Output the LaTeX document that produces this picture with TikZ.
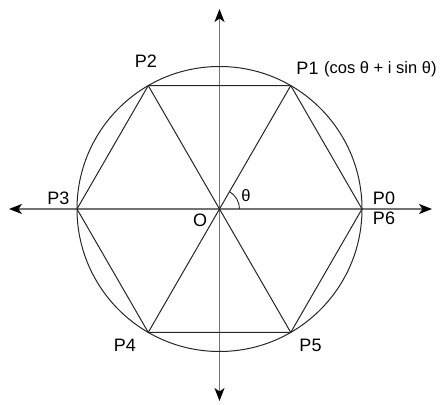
\documentclass[tikz,border=0pt]{standalone}
\usepackage{fontspec}
\setmainfont{Liberation Sans}
\usetikzlibrary{arrows.meta,calc}
\begin{document}
\begin{tikzpicture}[x=1pt,y=1pt,
  geo/.style={draw=black!85, line width=1pt},
  axis/.style={draw=black!55, line width=1.3pt, -{Stealth[length=13pt,width=10pt,inset=3.5pt,black]}},
  plabel/.style={font=\fontsize{18}{18}\selectfont, inner sep=0pt},
  small/.style={font=\fontsize{16.5}{17}\selectfont, inner sep=0pt}]
\useasboundingbox (0,0) rectangle (444,404);
\coordinate (O) at (219.5,195);
\foreach \k in {0,...,5} { \coordinate (Q\k) at ($(O)+(60*\k:142.5)$); }
\coordinate (AL) at (9,195);
\coordinate (AR) at (432,195);
\coordinate (AT) at (219.5,395);
\coordinate (AB) at (219.5,3);
% axes
\draw[axis] (O) -- (AL);
\draw[axis] (O) -- (AR);
\draw[axis] (O) -- (AT);
\draw[axis] (O) -- (AB);
% circle
\draw[geo] (O) circle[radius=142.5];
% hexagon
\draw[geo] (Q0) -- (Q1) -- (Q2) -- (Q3) -- (Q4) -- (Q5) -- cycle;
% diameters
\draw[geo] (Q1) -- (Q4);
\draw[geo] (Q2) -- (Q5);
% angle arc
\draw[geo, line width=0.9pt] ($(O)+(20,0)$) arc[start angle=0, end angle=60, radius=20];
% labels
\node[plabel] (lP1) at (307.5,335.5) {P1};
\node[small, anchor=west] (lz) at (324,335) {(cos θ + i sin θ)};
\node[plabel] (lP2) at (146,342.5) {P2};
\node[plabel] (lP3) at (58.5,205.5) {P3};
\node[plabel] (lP0) at (384,205.5) {P0};
\node[plabel] (lP6) at (384,185.5) {P6};
\node[plabel] (lO) at (200,184) {O};
\node[small] (lth) at (246,208) {θ};
\node[plabel] (lP4) at (125,59) {P4};
\node[plabel] (lP5) at (310.5,59) {P5};
\end{tikzpicture}
\end{document}
